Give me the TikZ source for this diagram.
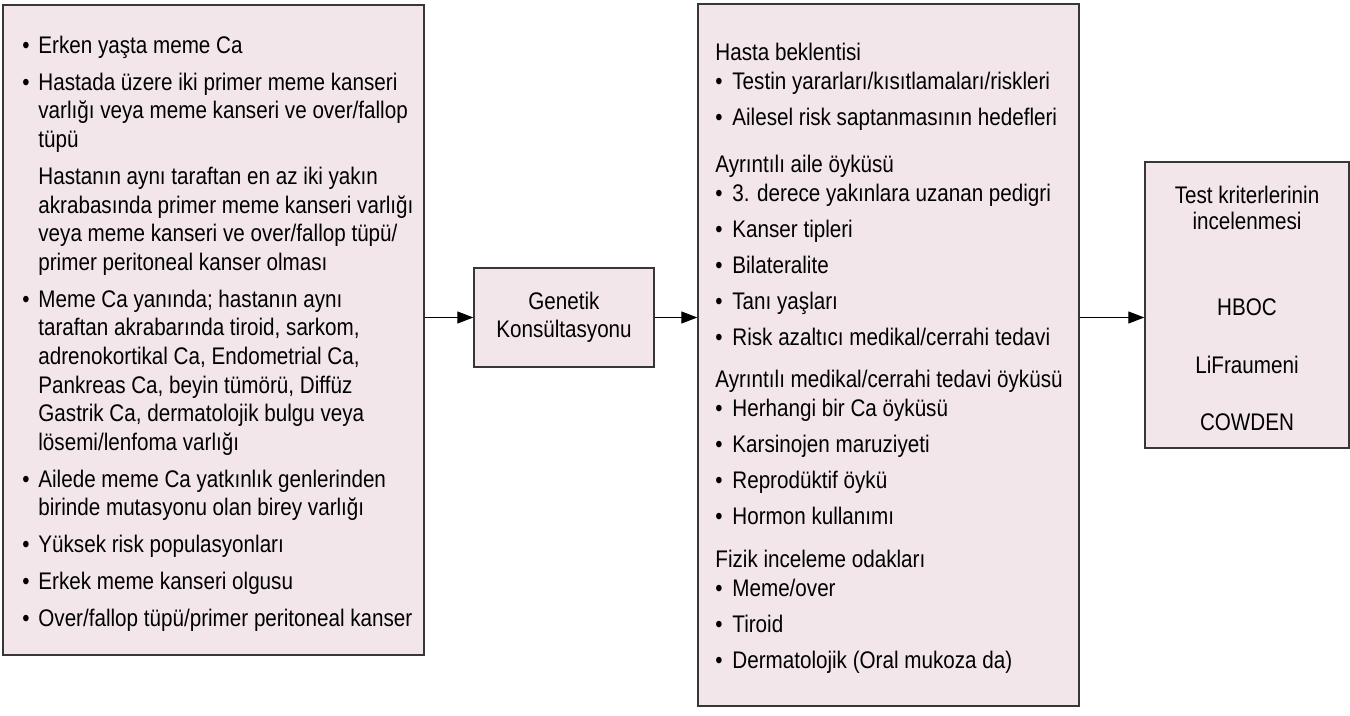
\documentclass[tikz,border=0pt]{standalone}
\usepackage{fontspec}
\setmainfont{Liberation Sans}[FakeStretch=0.86]
\usepackage{xcolor}
\usetikzlibrary{arrows.meta, positioning, calc}
\definecolor{BoxPink}{RGB}{242,230,234}
\definecolor{BoxLine}{RGB}{55,55,55}

% bullet helpers
\newcommand{\lbul}[1]{\par\hangindent=8pt\hangafter=1\noindent\makebox[8pt][l]{\textbullet}#1\par}
\newcommand{\lind}[1]{\par\hangindent=8pt\hangafter=0\noindent #1\par}
\newcommand{\mbul}{\makebox[8.5pt][l]{\textbullet}}

\begin{document}
\begin{tikzpicture}[x=0.5pt, y=-0.5pt,
          panel/.style={rectangle, draw=BoxLine, fill=BoxPink, line width=0.7pt},
          txt/.style={inner sep=0pt, font=\fontsize{12}{14.3}\selectfont},
          arr/.style={-{Triangle[length=8pt, width=6pt]}, line width=0.6pt, black}
        ]
        \useasboundingbox (0,0) rectangle (1350,716);

        % boxes
        \node[panel, minimum width=210.5pt, minimum height=325pt] (risk) at (213.5,330) {};
        \node[panel, minimum width=90pt, minimum height=49.5pt, align=center,
              font=\fontsize{12}{14}\selectfont] (gen) at (564,317.5) {Genetik\\Konsültasyonu};
        \node[panel, minimum width=190.5pt, minimum height=351pt] (oyku) at (888.5,355) {};
        \node[panel, minimum width=102pt, minimum height=143pt] (test) at (1247,305) {};

        % texts
        \node[txt, anchor=north west] (risktxt) at (22,35.5) {%
          \begin{minipage}{205pt}
          \fontsize{12}{14.3}\selectfont\setlength{\parskip}{4.2pt}%
          \lbul{Erken yaşta meme Ca}
          \lbul{Hastada üzere iki primer meme kanseri\newline varlığı veya meme kanseri ve over/fallop\newline tüpü}
          \lind{Hastanın aynı taraftan en az iki yakın\newline akrabasında primer meme kanseri varlığı\newline veya meme kanseri ve over/fallop tüpü/\newline primer peritoneal kanser olması}
          \lbul{Meme Ca yanında; hastanın aynı\newline taraftan akrabarında tiroid, sarkom,\newline adrenokortikal Ca, Endometrial Ca,\newline Pankreas Ca, beyin tümörü, Diffüz\newline Gastrik Ca, dermatolojik bulgu veya\newline lösemi/lenfoma varlığı}
          \lbul{Ailede meme Ca yatkınlık genlerinden\newline birinde mutasyonu olan birey varlığı}
          \lbul{Yüksek risk populasyonları}
          \lbul{Erkek meme kanseri olgusu}
          \lbul{Over/fallop tüpü/primer peritoneal kanser}
          \end{minipage}};

        \node[txt, anchor=north west] (oykutxt) at (715,42.5) {%
          \begin{minipage}{185pt}\raggedright
          \fontsize{12}{14.5}\selectfont
          Hasta beklentisi\\
          \mbul Testin yararları/kısıtlamaları/riskleri\\[3.5pt]
          \mbul Ailesel risk saptanmasının hedefleri\\[9pt]
          Ayrıntılı aile öyküsü\\
          \mbul 3. derece yakınlara uzanan pedigri\\[3.5pt]
          \mbul Kanser tipleri\\[3.5pt]
          \mbul Bilateralite\\[3.5pt]
          \mbul Tanı yaşları\\[3.5pt]
          \mbul Risk azaltıcı medikal/cerrahi tedavi\\[6.5pt]
          Ayrıntılı medikal/cerrahi tedavi öyküsü\\
          \mbul Herhangi bir Ca öyküsü\\[3.5pt]
          \mbul Karsinojen maruziyeti\\[3.5pt]
          \mbul Reprodüktif öykü\\[3.5pt]
          \mbul Hormon kullanımı\\[7pt]
          Fizik inceleme odakları\\
          \mbul Meme/over\\[3.5pt]
          \mbul Tiroid\\[3.5pt]
          \mbul Dermatolojik (Oral mukoza da)
          \end{minipage}};

        \node[txt, anchor=north] (testtxt) at (1247,185.5) {%
          \begin{minipage}{98pt}\centering
          \fontsize{12}{13}\selectfont
          Test kriterlerinin\\
          incelenmesi\\[30pt]
          HBOC\\[16pt]
          LiFraumeni\\[15.5pt]
          COWDEN
          \end{minipage}};

        % arrows
        \draw[arr] (gen.west -| risk.east) -- (gen.west);
        \draw[arr] (gen.east) -- (gen.east -| oyku.west);
        \draw[arr] (gen.east -| oyku.east) -- (gen.east -| test.west);
      \end{tikzpicture}
\end{document}
